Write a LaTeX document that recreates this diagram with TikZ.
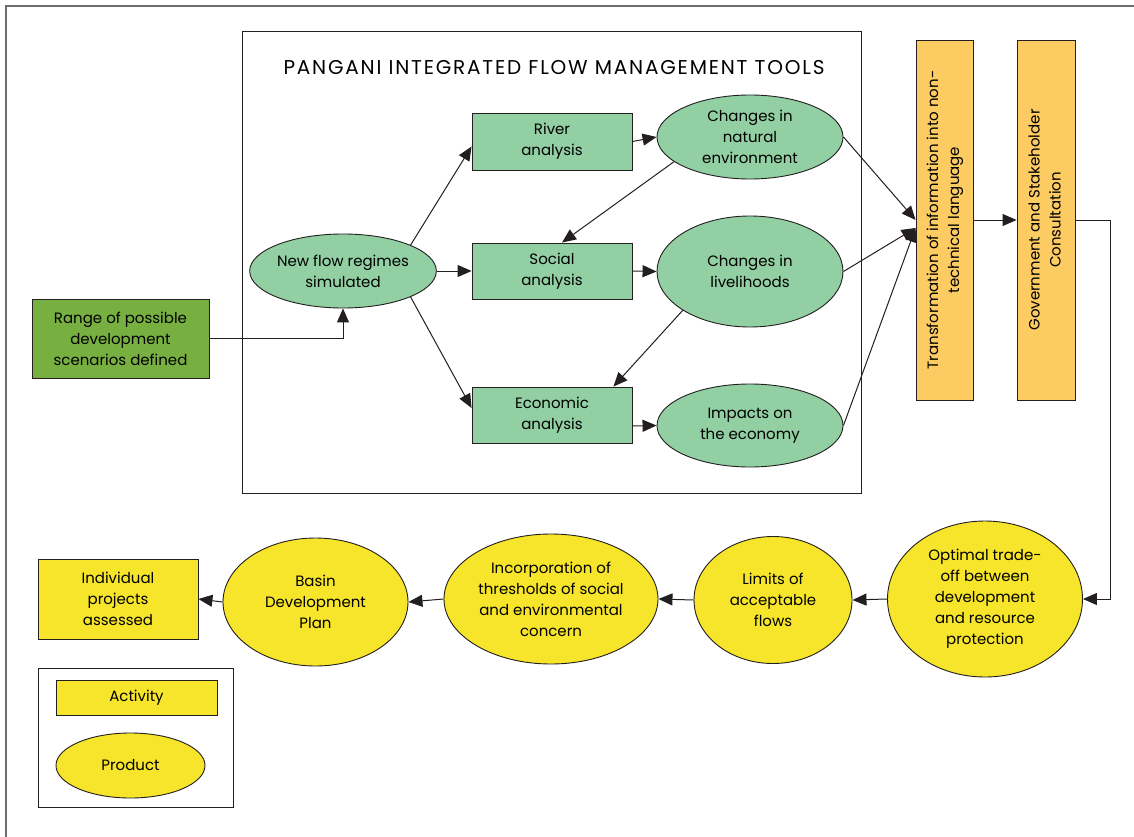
\documentclass[tikz,border=0pt]{standalone}
\usepackage{fontspec}
\setmainfont{Poppins}
\newfontfamily\titlefont[LetterSpace=9]{Poppins}
\usepackage{graphicx}
\usetikzlibrary{arrows.meta,positioning,shapes.geometric,calc}
\definecolor{PgInk}{HTML}{231F20}
\definecolor{PgFrame}{HTML}{6E6E6E}
\definecolor{PgGreen}{HTML}{92CFA3}
\definecolor{PgDark}{HTML}{77B041}
\definecolor{PgOrange}{HTML}{FCCB62}
\definecolor{PgYellow}{HTML}{F6E52A}

\begin{document}
\begin{tikzpicture}[x=1pt,y=-1pt,
        font=\fontsize{15}{21}\selectfont,
        gbox/.style={draw=PgInk,line width=0.9pt,fill=PgGreen,align=center,inner sep=0pt,minimum width=160pt,minimum height=56pt},
        gell/.style={ellipse,draw=PgInk,line width=0.9pt,fill=PgGreen,align=center,inner sep=0pt,minimum width=186pt},
        obox/.style={draw=PgInk,line width=0.9pt,fill=PgOrange,inner sep=0pt,minimum height=360pt},
        ybox/.style={draw=PgInk,line width=0.9pt,fill=PgYellow,align=center,inner sep=0pt},
        yell/.style={ellipse,draw=PgInk,line width=0.9pt,fill=PgYellow,align=center,inner sep=0pt},
        arr/.style={-{Triangle[length=14pt,width=12pt]},line width=1pt,PgInk}
      ]
        \useasboundingbox (0,0) rectangle (1134,837);
        \draw[PgFrame,line width=2pt] (6,837) -- (6,6) -- (1134,6);
        % integrated flow management tools
        \draw[PgInk,line width=0.9pt] (242,31) rectangle (861,493);
        \node (title) at (554,68) {\titlefont\fontsize{20}{22}\selectfont PANGANI INTEGRATED FLOW MANAGEMENT TOOLS};
        \node[gbox,fill=PgDark,minimum width=177pt,minimum height=79pt] (range) at (120.5,338.5) {Range of possible\\development\\scenarios defined};
        \node[gell,minimum height=74pt] (newflow) at (343,271) {New flow regimes\\simulated};
        \node[gbox,minimum height=57pt] (river) at (552,141.5) {River\\analysis};
        \node[gbox] (social) at (552,271) {Social\\analysis};
        \node[gbox] (economic) at (552,415) {Economic\\analysis};
        \node[gell,minimum height=84pt] (natural) at (750,137) {Changes in\\natural\\environment};
        \node[gell,minimum height=111pt] (livelihoods) at (750,271.5) {Changes in\\livelihoods};
        \node[gell,minimum height=83pt] (impacts) at (750,425.5) {Impacts on\\the economy};
        \node[obox,minimum width=57pt] (trans) at (944.5,220) {\rotatebox{90}{\begin{tabular}{@{}c@{}}Transformation of information into non-\\technical language\end{tabular}}};
        \node[obox,minimum width=58pt] (gov) at (1046,220) {\rotatebox{90}{\begin{tabular}{@{}c@{}}Government and Stakeholder\\Consultation\end{tabular}}};
        % bottom row
        \node[yell,minimum width=195pt,minimum height=156pt] (optimal) at (985,599) {Optimal trade-\\off between\\development\\and resource\\protection};
        \node[yell,minimum width=158pt,minimum height=127pt] (limits) at (773,600) {Limits of\\acceptable\\flows};
        \node[yell,minimum width=214pt,minimum height=130pt] (incorp) at (551,599) {Incorporation of\\thresholds of social\\and environmental\\concern};
        \node[yell,minimum width=185pt,minimum height=128pt] (basin) at (315.5,602) {Basin\\Development\\Plan};
        \node[ybox,minimum width=160pt,minimum height=80pt] (indiv) at (118,599) {Individual\\projects\\assessed};
        % legend
        \draw[PgInk,line width=0.9pt] (38,668) rectangle (233,807);
        \node[ybox,minimum width=161pt,minimum height=35pt] (activity) at (136.5,697.5) {Activity};
        \node[yell,minimum width=149pt,minimum height=65pt] (product) at (130.5,765.5) {Product};
        \coordinate (bend) at (1110,599);
        \draw[arr] (range.east) -| (newflow.south);
        \draw[arr] (newflow.21) -- ([yshift=-5pt]river.west);
        \draw[arr] (newflow.east) -- (social.west);
        \draw[arr] (newflow.-21) -- ([yshift=7pt]economic.west);
        \draw[arr] (river.east) -- (natural.west);
        \draw[arr] (social.east) -- (livelihoods.west);
        \draw[arr] ([yshift=-11pt]economic.east) -- (impacts.west);
        \draw[arr] (natural.198) -- ([xshift=10pt]social.north);
        \draw[arr] (livelihoods.210) -- ([xshift=-19pt]economic.north east);
        \draw[arr] (natural.east) -- (trans.west);
        \draw[arr] (livelihoods.east) -- ([yshift=-8pt]trans.west);
        \draw[arr] (impacts.east) -- ([yshift=-8pt]trans.west);
        \draw[arr] (trans.east) -- (gov.west);
        \draw[arr] (gov.east) -| (bend) -- (optimal.east);
        \draw[arr] (optimal.west) -- (limits.east);
        \draw[arr] (limits.west) -- (incorp.east);
        \draw[arr] (incorp.west) -- (basin.east);
        \draw[arr] (basin.west) -- (indiv.east);
      \end{tikzpicture}
\end{document}
